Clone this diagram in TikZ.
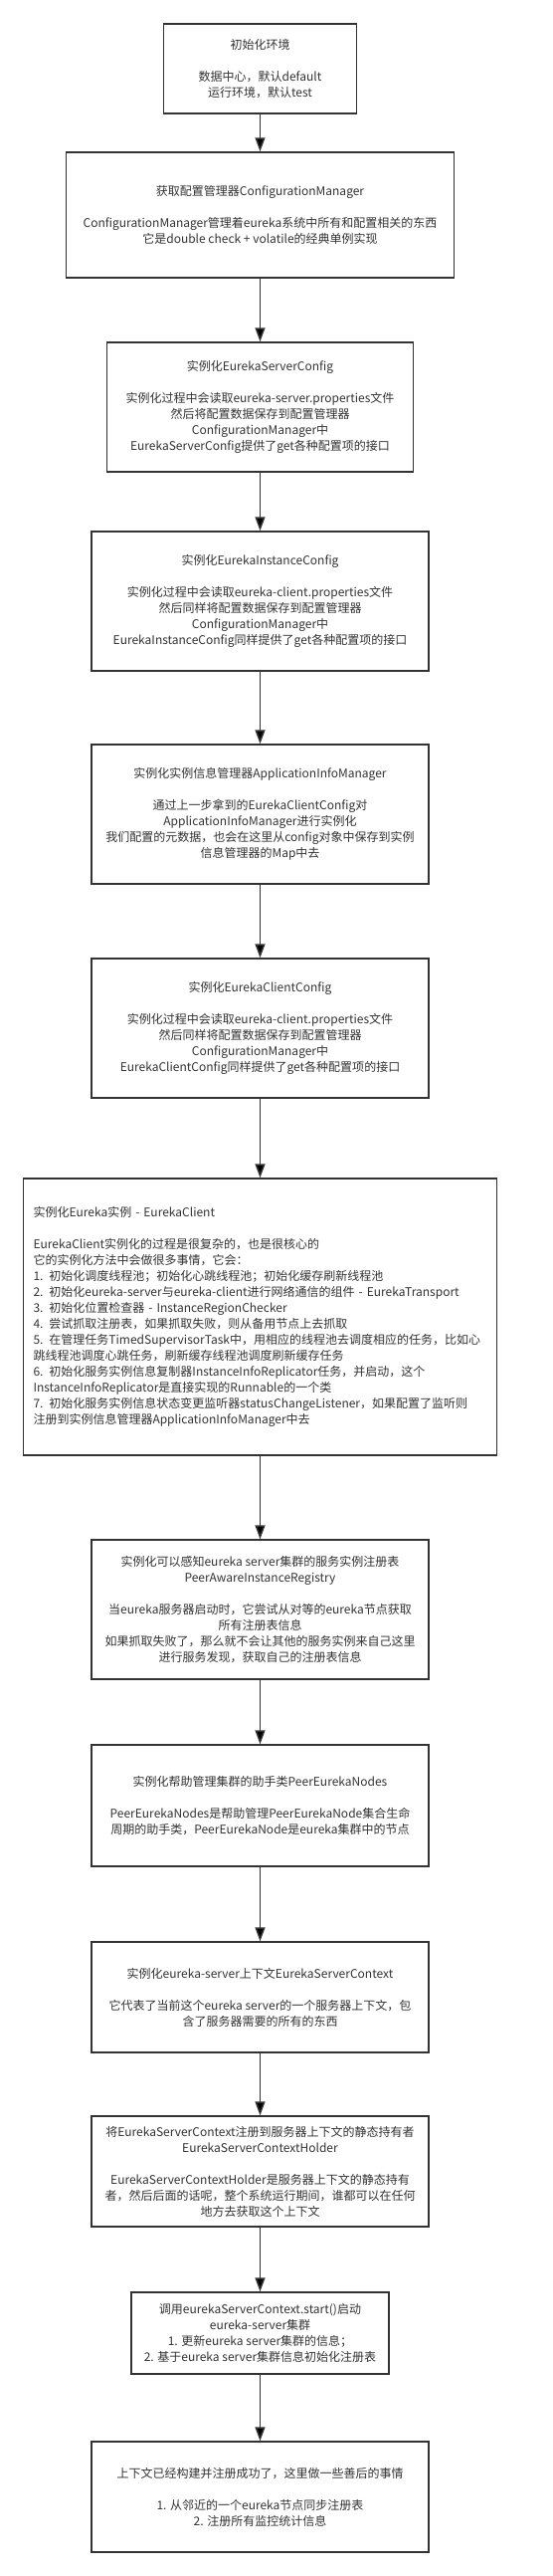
\documentclass[tikz,border=0pt]{standalone}
\usepackage{fontspec}
\setmainfont{Noto Sans CJK SC}
\usetikzlibrary{arrows.meta}
\definecolor{dgray}{RGB}{51,51,51}
\begin{document}
\begin{tikzpicture}[x=1pt,y=-1pt,
  box/.style={draw=dgray,line width=1.5pt,fill=white,text=dgray,align=center,inner sep=4pt,font=\fontsize{12}{16}\selectfont},
  flow/.style={draw=dgray,line width=1.5pt,-{Triangle[length=14pt,width=10pt]}}]
\useasboundingbox (0,0) rectangle (555,2588);
\node[box,minimum width=194,minimum height=90] (v1) at (261.5,69) {初始化环境\\[16pt]数据中心，默认default\\运行环境，默认test};
\node[box,minimum width=390,minimum height=126] (v2) at (261.5,216) {获取配置管理器ConfigurationManager\\[16pt]ConfigurationManager管理着eureka系统中所有和配置相关的东西\\它是double check + volatile的经典单例实现};
\node[box,minimum width=308,minimum height=130] (v3) at (261.5,409) {实例化EurekaServerConfig\\[16pt]实例化过程中会读取eureka-server.properties文件\\然后将配置数据保存到配置管理器\\ConfigurationManager中\\EurekaServerConfig提供了get各种配置项的接口};
\node[box,minimum width=339,minimum height=140] (v4) at (261.5,604) {实例化EurekaInstanceConfig\\[16pt]实例化过程中会读取eureka-client.properties文件\\然后同样将配置数据保存到配置管理器\\ConfigurationManager中\\EurekaInstanceConfig同样提供了get各种配置项的接口};
\node[box,minimum width=339,minimum height=140] (v5) at (261.5,818) {实例化实例信息管理器ApplicationInfoManager\\[16pt]通过上一步拿到的EurekaClientConfig对\\ApplicationInfoManager进行实例化\\我们配置的元数据，也会在这里从config对象中保存到实例\\信息管理器的Map中去};
\node[box,minimum width=339,minimum height=140] (v6) at (261.5,1033) {实例化EurekaClientConfig\\[16pt]实例化过程中会读取eureka-client.properties文件\\然后同样将配置数据保存到配置管理器\\ConfigurationManager中\\EurekaClientConfig同样提供了get各种配置项的接口};
\node[box,align=left,text width=456,inner xsep=10pt,minimum height=278] (v7) at (261.5,1323) {实例化Eureka实例 - EurekaClient\\[16pt]EurekaClient实例化的过程是很复杂的，也是很核心的\\它的实例化方法中会做很多事情，它会：\\1. 初始化调度线程池；初始化心跳线程池；初始化缓存刷新线程池\\2. 初始化eureka-server与eureka-client进行网络通信的组件 - EurekaTransport\\3. 初始化位置检查器 - InstanceRegionChecker\\4. 尝试抓取注册表，如果抓取失败，则从备用节点上去抓取\\5. 在管理任务TimedSupervisorTask中，用相应的线程池去调度相应的任务，比如心\\跳线程池调度心跳任务，刷新缓存线程池调度刷新缓存任务\\6. 初始化服务实例信息复制器InstanceInfoReplicator任务，并启动，这个\\InstanceInfoReplicator是直接实现的Runnable的一个类\\7. 初始化服务实例信息状态变更监听器statusChangeListener，如果配置了监听则\\注册到实例信息管理器ApplicationInfoManager中去};
\node[box,minimum width=339,minimum height=140] (v8) at (261.5,1617) {实例化可以感知eureka server集群的服务实例注册表\\PeerAwareInstanceRegistry\\[16pt]当eureka服务器启动时，它尝试从对等的eureka节点获取\\所有注册表信息\\如果抓取失败了，那么就不会让其他的服务实例来自己这里\\进行服务发现，获取自己的注册表信息};
\node[box,minimum width=339,minimum height=122] (v9) at (261.5,1814) {实例化帮助管理集群的助手类PeerEurekaNodes\\[16pt]PeerEurekaNodes是帮助管理PeerEurekaNode集合生命\\周期的助手类，PeerEurekaNode是eureka集群中的节点};
\node[box,minimum width=339,minimum height=111] (v10) at (261.5,2006.5) {实例化eureka-server上下文EurekaServerContext\\[16pt]它代表了当前这个eureka server的一个服务器上下文，包\\含了服务器需要的所有的东西};
\node[box,minimum width=339,minimum height=111] (v11) at (261.5,2181.5) {将EurekaServerContext注册到服务器上下文的静态持有者\\EurekaServerContextHolder\\[16pt]EurekaServerContextHolder是服务器上下文的静态持有\\者，然后后面的话呢，整个系统运行期间，谁都可以在任何\\地方去获取这个上下文};
\node[box,minimum width=259,minimum height=82] (v12) at (261.5,2344) {调用eurekaServerContext.start()启动\\eureka-server集群\\1. 更新eureka server集群的信息；\\2. 基于eureka server集群信息初始化注册表};
\node[box,minimum width=339,minimum height=111] (v13) at (261.5,2508.5) {上下文已经构建并注册成功了，这里做一些善后的事情\\[16pt]1. 从邻近的一个eureka节点同步注册表\\2. 注册所有监控统计信息};

\draw[flow] (v1) edge (v2);
\draw[flow] (v2) edge (v3);
\draw[flow] (v3) edge (v4);
\draw[flow] (v4) edge (v5);
\draw[flow] (v5) edge (v6);
\draw[flow] (v6) edge (v7);
\draw[flow] (v7) edge (v8);
\draw[flow] (v8) edge (v9);
\draw[flow] (v9) edge (v10);
\draw[flow] (v10) edge (v11);
\draw[flow] (v11) edge (v12);
\draw[flow] (v12) edge (v13);
\end{tikzpicture}
\end{document}
